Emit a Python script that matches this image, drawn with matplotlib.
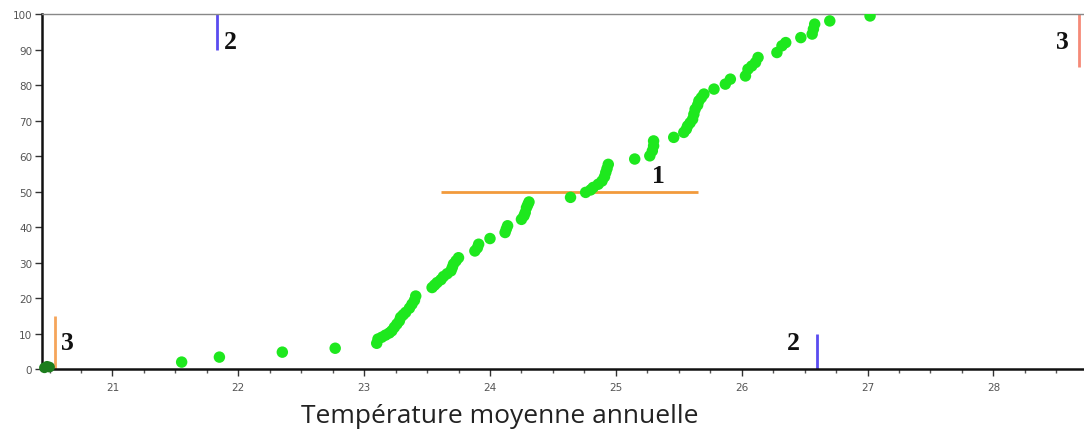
import numpy as np
import matplotlib.pyplot as plt
from matplotlib.ticker import MultipleLocator

# cumulative frequency (%) vs mean annual temperature
temp = [21.55, 21.85, 22.35, 22.77,
        23.10, 23.11, 23.14, 23.17, 23.20, 23.22, 23.24, 23.26, 23.28, 23.29, 23.31, 23.33,
        23.36, 23.38, 23.40, 23.41, 23.54, 23.56, 23.58, 23.61, 23.63, 23.66, 23.69, 23.70,
        23.71, 23.73, 23.75, 23.88, 23.90, 23.91, 24.00, 24.12, 24.13, 24.14, 24.25, 24.27,
        24.28, 24.29, 24.30, 24.31,
        24.64, 24.76, 24.80, 24.82, 24.86, 24.89, 24.91, 24.92, 24.93, 24.94,
        25.15, 25.27, 25.29, 25.30, 25.30, 25.46, 25.54, 25.56, 25.57, 25.59, 25.61, 25.62,
        25.63, 25.65, 25.66, 25.68, 25.70, 25.78, 25.87, 25.91, 26.03, 26.05, 26.08, 26.11,
        26.13, 26.28, 26.32, 26.35, 26.47, 26.56, 26.57, 26.58, 26.70, 27.02]
freq = [2.0, 3.4, 4.8, 5.9,
        7.3, 8.5, 9.0, 9.6, 10.2, 10.8, 11.8, 12.7, 13.6, 14.6, 15.3, 16.0,
        17.2, 18.3, 19.4, 20.6, 23.0, 23.7, 24.4, 25.2, 26.1, 26.9, 27.7, 28.6,
        29.6, 30.5, 31.4, 33.3, 34.2, 35.2, 36.8, 38.5, 39.5, 40.4, 42.2, 43.2,
        44.1, 45.5, 46.3, 47.1,
        48.4, 49.8, 50.5, 51.2, 52.1, 53.0, 54.2, 55.4, 56.5, 57.7,
        59.2, 60.1, 61.5, 62.9, 64.3, 65.3, 66.7, 67.6, 68.5, 69.4, 70.4, 71.8,
        73.2, 74.4, 75.6, 76.5, 77.5, 78.9, 80.3, 81.7, 82.6, 84.5, 85.4, 86.4,
        87.8, 89.2, 91.1, 92.0, 93.4, 94.4, 95.8, 97.2, 98.1, 99.5]
# first records sitting at the lower bound
temp_low = [20.46, 20.48, 20.50]
freq_low = [0.4, 0.8, 0.6]

# reference lines: 1 = median, 2 = range, 3 = extremes
median_y = 50
median_x = [23.61, 25.65]
range_x = [21.83, 26.60]
range_y = [[90, 100], [0, 10]]
ext_x = [20.54, 28.68]
ext_y = [[0, 15], [85, 100]]
marks = ['1', '2', '2', '3', '3']
marks_x = [25.34, 21.94, 26.41, 20.64, 28.55]
marks_y = [54.6, 92.4, 7.6, 7.6, 92.4]

fig = plt.figure(figsize=(10.84, 4.35), dpi=100)
ax = fig.add_axes([0.0387, 0.149, 0.9613, 0.8161])

ax.scatter(temp, freq, s=68, color='#1ee81e', edgecolors='none', zorder=3)
ax.scatter(temp_low, freq_low, s=60, color='#1d7d1d', edgecolors='none', zorder=3, clip_on=False)

ax.hlines(median_y, median_x[0], median_x[1], color='#f29a3c', lw=2, zorder=2)
ax.vlines(range_x[0], range_y[0][0], range_y[0][1], color='#5a4cf0', lw=2)
ax.vlines(range_x[1], range_y[1][0], range_y[1][1], color='#5a4cf0', lw=2)
ax.vlines(ext_x[0], ext_y[0][0], ext_y[0][1], color='#f5a55a', lw=2, clip_on=False)
ax.vlines(ext_x[1], ext_y[1][0], ext_y[1][1], color='#f58a78', lw=2, clip_on=False)

for t, x, y in zip(marks, marks_x, marks_y):
    ax.text(x, y, t, ha='center', va='center', fontsize=18.5, fontweight='bold',
            family='Liberation Serif', color='#111111')

ax.set_xlim(20.44, 28.72)
ax.set_ylim(0, 100)
ax.xaxis.set_major_locator(MultipleLocator(1))
ax.xaxis.set_minor_locator(MultipleLocator(0.25))
ax.yaxis.set_major_locator(MultipleLocator(10))
ax.tick_params(axis='both', which='major', length=5, width=1, color='#333333',
               labelsize=7.5, labelcolor='#555555', pad=4)
ax.tick_params(axis='x', which='minor', length=3, width=1, color='#555555')
ax.tick_params(axis='y', pad=2)

for side in ['left', 'bottom']:
    ax.spines[side].set_linewidth(1.8)
    ax.spines[side].set_color('#111111')
ax.spines['top'].set_color('#888888')
ax.spines['top'].set_linewidth(1)
ax.spines['right'].set_visible(False)

fig.text(0.461, 0.042, 'Température moyenne annuelle', ha='center', va='center',
         fontsize=19, family='Open Sans', color='#222222')

fig.savefig('out.png', dpi=100)
